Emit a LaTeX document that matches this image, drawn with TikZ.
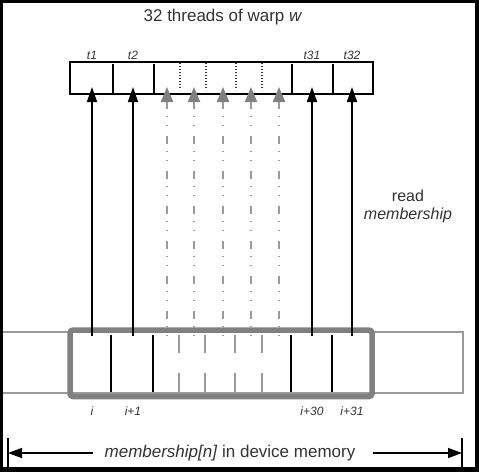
\documentclass[tikz,border=0pt]{standalone}
\usepackage{fontspec}
\setmainfont{Liberation Sans}
\usepackage{tikz}
\usetikzlibrary{arrows.meta}
\definecolor{txt}{HTML}{333333}
\definecolor{lgray}{HTML}{9A9A9A}
\definecolor{mgray}{HTML}{808080}

\tikzset{
  big/.style={font=\fontsize{17}{20}\selectfont, text=txt},
  lbl/.style={font=\fontsize{12}{14}\selectfont\itshape, text=txt},
  rd/.style={-{Triangle[length=15pt,width=10pt]}, line width=1.6pt},
  rdgray/.style={-{Triangle[length=15pt,width=12pt,color=mgray]}, draw=lgray, line width=2pt,
    dash pattern=on 1pt off 8pt on 1pt off 7pt on 8pt off 10pt},
  dim/.style={-{Triangle[length=14pt,width=10pt]}, line width=1.5pt}
}

\begin{document}
\begin{tikzpicture}[x=1pt, y=-1pt]
  \fill[black] (0,0) rectangle (479,472);
  \fill[white] (3,3) rectangle (475,467);
  \useasboundingbox (0,0) rectangle (479,472);

  \node (title) [big] at (223,17) {32 threads of warp \textit{w}};

  % threads of the warp
  \node (warp) [draw, line width=1.5pt, minimum width=303pt, minimum height=32pt, inner sep=0pt] at (221.5,78) {};
  \foreach \x in {113,154,292,333}
    \draw[line width=1.5pt] (\x,64) -- (\x,93);
  \foreach \x in {180,206,236,262}
    \draw[txt, line width=2pt, dash pattern=on 1pt off 2pt] (\x,63) -- (\x,90);
  \foreach \x/\t in {92/t1,133/t2,312/t31,352/t32}
    \node (\t) [lbl] at (\x,55) {\t};

  % memory
  \draw[lgray, line width=1.5pt] (3,332) -- (463,332) -- (463,393) -- (3,393);
  \node (block) [draw=mgray, line width=5.5pt, rounded corners=3pt, minimum width=302pt, minimum height=66.5pt, inner sep=0pt] at (221,363.25) {};
  \foreach \x in {111,153,291,332}
    \draw[line width=1.5pt] (\x,335) -- (\x,392);
  \foreach \x in {179,205,235,262}{
    \draw[lgray, line width=2pt] (\x,335) -- (\x,353);
    \draw[lgray, line width=2pt] (\x,373) -- (\x,392);
  }
  \foreach \x/\t in {92/i,133/i+1,312/i+30,352/i+31}
    \node [lbl] at (\x,411) {\t};

  % reads
  \foreach \x [count=\k] in {92,133,312,352}{
    \coordinate (src\k) at (\x,336);
    \coordinate (dst\k) at (\x,87);
    \draw[rd] (src\k) -- (dst\k);
  }
  \foreach \x [count=\k] in {167,194,223,251,279}{
    \coordinate (gsrc\k) at (\x,336);
    \coordinate (gdst\k) at (\x,87);
    \draw[rdgray] (gsrc\k) -- (gdst\k);
  }
  \node (read) [big, font=\fontsize{16}{18}\selectfont, align=center] at (408,206) {read\\\textit{membership}};

  % extent of membership
  \node (mem) [big] at (230,453) {\textit{membership[n]} in device memory};
  \coordinate (ml) at (93,453);
  \coordinate (mr) at (373,453);
  \coordinate (lt) at (8,453);
  \coordinate (rt) at (462,453);
  \draw[line width=1.5pt] (8,438) -- (8,467);
  \draw[line width=1.5pt] (462,438) -- (462,467);
  \draw[dim] (ml) -- (lt);
  \draw[dim] (mr) -- (rt);
\end{tikzpicture}
\end{document}
